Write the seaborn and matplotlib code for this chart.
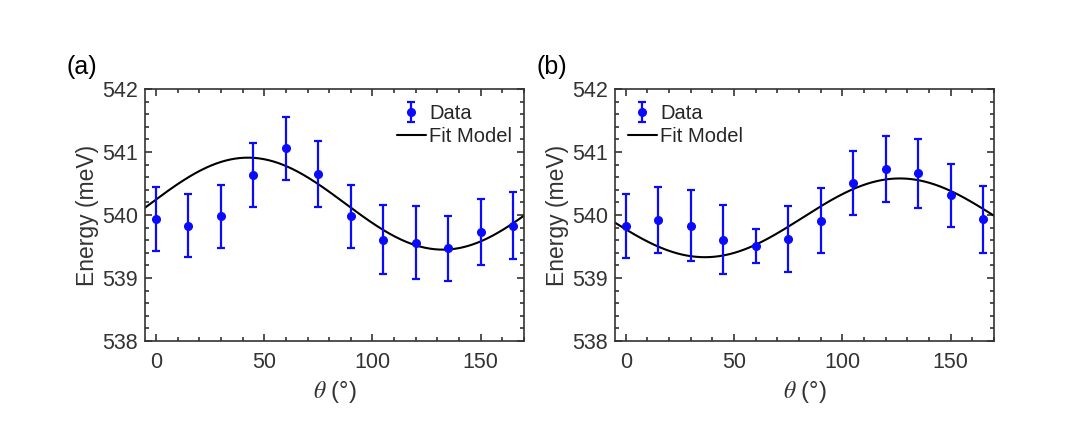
import numpy as np
import pandas as pd
import matplotlib
matplotlib.use('Agg')
import matplotlib.pyplot as plt
import seaborn as sns
from matplotlib.ticker import MultipleLocator

# --- data ---
theta = [0, 15, 30, 45, 60, 75, 90, 105, 120, 135, 150, 165]

energy_a = [539.94, 539.83, 539.98, 540.64, 541.06, 540.65, 539.98, 539.61, 539.56, 539.47, 539.73, 539.83]
err_a = [0.51, 0.50, 0.50, 0.51, 0.50, 0.52, 0.50, 0.55, 0.58, 0.52, 0.52, 0.53]

energy_b = [539.83, 539.92, 539.83, 539.61, 539.50, 539.62, 539.91, 540.51, 540.73, 540.66, 540.31, 539.93]
err_b = [0.51, 0.53, 0.56, 0.55, 0.27, 0.53, 0.52, 0.51, 0.52, 0.55, 0.50, 0.53]

# fit model E = E0 + A*cos(2*(theta - theta0)), parameters
fit_a = dict(E0=540.18, A=0.73, theta0=42.5)
fit_b = dict(E0=539.955, A=0.625, theta0=126.5)

# --- style ---
sns.set_theme(style='ticks')
plt.rcParams['font.family'] = ['Liberation Sans', 'DejaVu Sans']
plt.rcParams['mathtext.fontset'] = 'stix'

fig = plt.figure(figsize=(10.8, 4.33), dpi=100)
ax_a = fig.add_axes([0.1343, 0.2125, 0.351, 0.582])
ax_b = fig.add_axes([0.5694, 0.2125, 0.351, 0.582])

gray = '#333333'
theta_fine = np.linspace(-5, 170, 400)


def draw_panel(ax, energy, err, fit, label, legend_loc, legend_anchor):
    df = pd.DataFrame({'theta': theta_fine,
                       'E': fit['E0'] + fit['A'] * np.cos(np.deg2rad(2 * (theta_fine - fit['theta0'])))})
    ax.errorbar(theta, energy, yerr=err, fmt='o', color='#0a0aff', ms=5.5,
                elinewidth=1.6, capsize=2.8, capthick=1.6, label='Data', zorder=3)
    sns.lineplot(data=df, x='theta', y='E', ax=ax, color='black', lw=1.5,
                 label='Fit Model', zorder=2)

    ax.set_xlim(-5, 170)
    ax.set_ylim(538, 542)
    ax.xaxis.set_major_locator(MultipleLocator(50))
    ax.xaxis.set_minor_locator(MultipleLocator(10))
    ax.yaxis.set_major_locator(MultipleLocator(1))
    ax.yaxis.set_minor_locator(MultipleLocator(0.2))
    ax.tick_params(which='both', direction='in', top=True, right=True,
                   color=gray, labelcolor=gray, labelsize=15.5, width=1.2)
    ax.tick_params(which='major', length=5)
    ax.tick_params(axis='x', which='major', pad=8)
    ax.tick_params(axis='y', which='major', pad=5)
    ax.tick_params(which='minor', length=3)
    for s in ax.spines.values():
        s.set_color(gray)
        s.set_linewidth(1.2)

    ax.set_xlabel(r'$\theta$ (°)', fontsize=17, color=gray, labelpad=4)
    ax.set_ylabel('Energy (meV)', fontsize=16.5, color=gray, labelpad=2)
    ax.text(-0.208, 1.087, label, transform=ax.transAxes, fontsize=18, color='black',
            ha='left', va='center')

    handles, labels = ax.get_legend_handles_labels()
    order = [labels.index('Data'), labels.index('Fit Model')]
    ax.legend([handles[i] for i in order], [labels[i] for i in order],
              loc=legend_loc, bbox_to_anchor=legend_anchor, frameon=False,
              fontsize=14.5, handlelength=1.45, handletextpad=0.15,
              borderaxespad=0, labelspacing=0.2, borderpad=0.3)


draw_panel(ax_a, energy_a, err_a, fit_a, '(a)', 'upper right', (0.984, 0.964))
draw_panel(ax_b, energy_b, err_b, fit_b, '(b)', 'upper left', (0.018, 0.964))

fig.savefig('out.png', dpi=100)
